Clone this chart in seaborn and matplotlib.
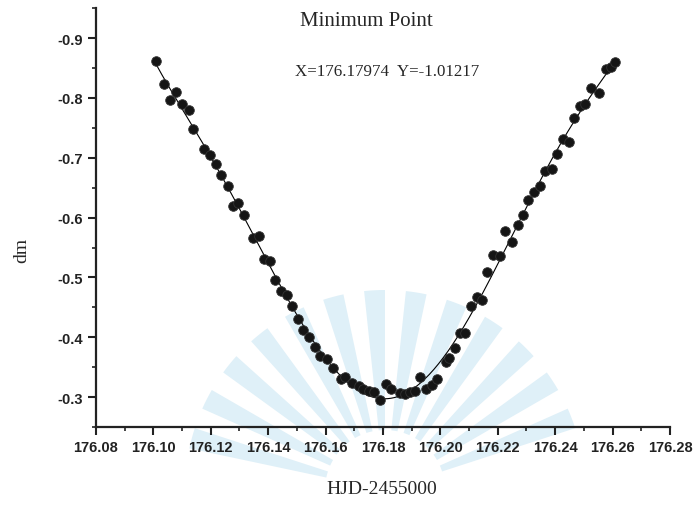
import numpy as np
import pandas as pd
import matplotlib
matplotlib.use("Agg")
import matplotlib.pyplot as plt
from matplotlib.patches import Wedge
from matplotlib.transforms import IdentityTransform
from matplotlib.ticker import MultipleLocator, FormatStrFormatter
import seaborn as sns

# observed points (HJD-2455000, dm)
hjd = [176.1009, 176.1038, 176.1059, 176.1080, 176.1100, 176.1123, 176.1138, 176.1177,
       176.1198, 176.1219, 176.1236, 176.1259, 176.1277, 176.1295, 176.1317, 176.1349,
       176.1367, 176.1384, 176.1405, 176.1425, 176.1445, 176.1466, 176.1483, 176.1504,
       176.1523, 176.1544, 176.1564, 176.1582, 176.1605, 176.1626, 176.1654, 176.1669,
       176.1692, 176.1715, 176.1730, 176.1753, 176.1770, 176.1788, 176.1812, 176.1828,
       176.1858, 176.1878, 176.1895, 176.1913, 176.1928, 176.1951, 176.1971, 176.1988,
       176.2021, 176.2029, 176.2052, 176.2069, 176.2087, 176.2107, 176.2128, 176.2145,
       176.2164, 176.2185, 176.2209, 176.2226, 176.2249, 176.2269, 176.2288, 176.2307,
       176.2325, 176.2346, 176.2366, 176.2389, 176.2408, 176.2429, 176.2447, 176.2464,
       176.2487, 176.2505, 176.2525, 176.2551, 176.2578, 176.2595, 176.2609]
dm = [-0.862, -0.823, -0.796, -0.810, -0.789, -0.780, -0.748, -0.714,
      -0.704, -0.689, -0.671, -0.652, -0.619, -0.624, -0.604, -0.566,
      -0.570, -0.530, -0.527, -0.496, -0.478, -0.470, -0.452, -0.430,
      -0.413, -0.401, -0.384, -0.368, -0.363, -0.348, -0.330, -0.333,
      -0.323, -0.319, -0.313, -0.310, -0.308, -0.295, -0.322, -0.313,
      -0.307, -0.305, -0.308, -0.310, -0.334, -0.313, -0.320, -0.330,
      -0.359, -0.365, -0.382, -0.408, -0.407, -0.452, -0.468, -0.463,
      -0.509, -0.538, -0.535, -0.577, -0.560, -0.588, -0.604, -0.629,
      -0.642, -0.653, -0.678, -0.682, -0.706, -0.731, -0.726, -0.767,
      -0.787, -0.789, -0.817, -0.809, -0.848, -0.851, -0.860]

min_label = "X=176.17974  Y=-1.01217"

df = pd.DataFrame({"hjd": hjd, "dm": dm})

# smooth fit through the observations
coef = np.polyfit(df["hjd"] - 176.18, df["dm"], 6)
xs = np.linspace(df["hjd"].min(), df["hjd"].max(), 300)
fit = pd.DataFrame({"hjd": xs, "dm": np.polyval(coef, xs - 176.18)})

sns.set_style("ticks")
plt.rcParams["axes.unicode_minus"] = False
plt.rcParams["font.family"] = ["Liberation Sans", "DejaVu Sans"]

fig = plt.figure(figsize=(6.95, 5.06), dpi=100)

# faint watermark rays behind the plot (pixel coords, origin bottom-left)
for ang in range(18, 170, 12):
    fig.add_artist(Wedge((385, 15), 200, ang, ang + 6, width=140,
                         transform=IdentityTransform(), facecolor="#dff0f8",
                         edgecolor="none", zorder=0))

ax = fig.add_axes([0.138, 0.154, 0.826, 0.828])
ax.patch.set_alpha(0)

sns.lineplot(data=fit, x="hjd", y="dm", ax=ax, color="black", lw=0.8)
sns.scatterplot(data=df, x="hjd", y="dm", ax=ax, color="#151515", s=48,
                edgecolor="#333333", linewidth=0.6, zorder=3)

ax.set_xlim(176.08, 176.28)
ax.set_ylim(-0.25, -0.95)
ax.xaxis.set_major_locator(MultipleLocator(0.02))
ax.xaxis.set_minor_locator(MultipleLocator(0.01))
ax.yaxis.set_major_locator(MultipleLocator(0.1))
ax.yaxis.set_minor_locator(MultipleLocator(0.05))
ax.xaxis.set_major_formatter(FormatStrFormatter("%.2f"))
ax.yaxis.set_major_formatter(FormatStrFormatter("%.1f"))

for side in ["top", "right"]:
    ax.spines[side].set_visible(False)
for side in ["left", "bottom"]:
    ax.spines[side].set_linewidth(1.6)
    ax.spines[side].set_color("#222222")

ax.tick_params(which="major", length=6, width=1.5, color="#222222", direction="out")
ax.tick_params(which="minor", length=3, width=1.2, color="#222222", direction="out")
for lab in ax.get_xticklabels() + ax.get_yticklabels():
    lab.set_fontweight("bold")
    lab.set_fontsize(10.5)
    lab.set_color("#222222")

serif = ["Liberation Serif", "DejaVu Serif"]
ax.set_xlabel("")
ax.set_ylabel("")
fig.text(0.55, 0.032, "HJD-2455000", family=serif, fontsize=14,
         ha="center", va="center")
fig.text(0.032, 0.506, "dm", family=serif, fontsize=14, rotation=90,
         ha="center", va="center")

fig.text(0.527, 0.957, "Minimum Point", family=serif, fontsize=15,
         ha="center", va="center")
fig.text(0.557, 0.858, min_label, family=serif, fontsize=12.2,
         ha="center", va="center")

fig.savefig("out.png", dpi=100)
